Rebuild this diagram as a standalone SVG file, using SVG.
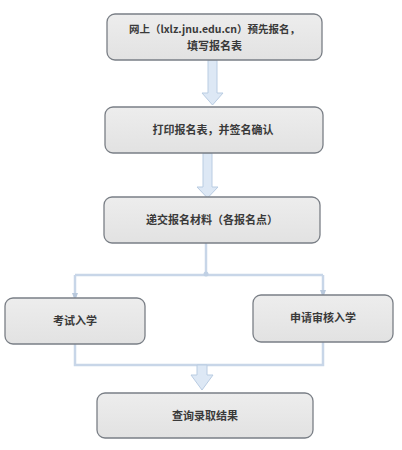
<svg xmlns="http://www.w3.org/2000/svg" width="402" height="450" viewBox="0 0 402 450">
<defs>
<linearGradient id="g" x1="0" y1="0" x2="0" y2="1">
<stop offset="0" stop-color="#ededed"/>
<stop offset="1" stop-color="#e2e2e2"/>
</linearGradient>
<marker id="ah" markerWidth="8" markerHeight="8" refX="4" refY="4" orient="auto" markerUnits="userSpaceOnUse">
<path d="M0,1 L8,4 L0,7 Z" fill="#b8c8dc"/>
</marker>
</defs>
<style>
.box{fill:url(#g);stroke:#7a7f86;stroke-width:1.3}
.t{font-family:"Noto Sans CJK SC","Liberation Sans",sans-serif;font-size:11px;font-weight:bold;fill:#3a3a3a;text-anchor:middle}
.ln{fill:none;stroke:#c8d6e8;stroke-width:2.5}
.fat{fill:#dde8f5;stroke:#b9cce2;stroke-width:1}
</style>
<rect width="402" height="450" fill="#ffffff"/>
<g id="connectors">
<path class="fat" d="M208,60 L217,60 L217,93 L223,93 L212.5,105 L202,93 L208,93 Z"/>
<path class="fat" d="M203,153 L212,153 L212,187 L218,187 L207.5,198 L197,187 L203,187 Z"/>
<path class="ln" d="M206,243 L206,275"/>
<path class="ln" d="M75,275 L323,275"/>
<path class="ln" d="M75,275 L75,297" marker-end="url(#ah)"/>
<path class="ln" d="M323,275 L323,294" marker-end="url(#ah)"/>
<circle cx="206" cy="274" r="2.5" fill="#c0d0e4"/>
<path class="ln" d="M75,344 L75,365 L323,365 L323,342"/>
<path class="fat" d="M197,365 L207,365 L207,375 L213,375 L202,390 L191,375 L197,375 Z"/>
</g>
<g id="n1">
<rect class="box" x="107" y="14" width="215" height="46" rx="8"/>
<text class="t" x="214.5" y="33" style="font-size:10.5px">网上（lxlz.jnu.edu.cn）预先报名，</text>
<text class="t" x="214.5" y="50">填写报名表</text>
</g>
<g id="n2">
<rect class="box" x="105" y="107" width="218" height="46" rx="8"/>
<text class="t" x="213" y="134">打印报名表，并签名确认</text>
</g>
<g id="n3">
<rect class="box" x="104" y="197" width="216" height="46" rx="8"/>
<text class="t" x="212" y="224">递交报名材料（各报名点）</text>
</g>
<g id="n4">
<rect class="box" x="5" y="298" width="140" height="46" rx="8"/>
<text class="t" x="75" y="325">考试入学</text>
</g>
<g id="n5">
<rect class="box" x="253" y="295" width="140" height="47" rx="8"/>
<text class="t" x="323" y="322">申请审核入学</text>
</g>
<g id="n6">
<rect class="box" x="97" y="393" width="216" height="45" rx="8"/>
<text class="t" x="205" y="420">查询录取结果</text>
</g>
</svg>
